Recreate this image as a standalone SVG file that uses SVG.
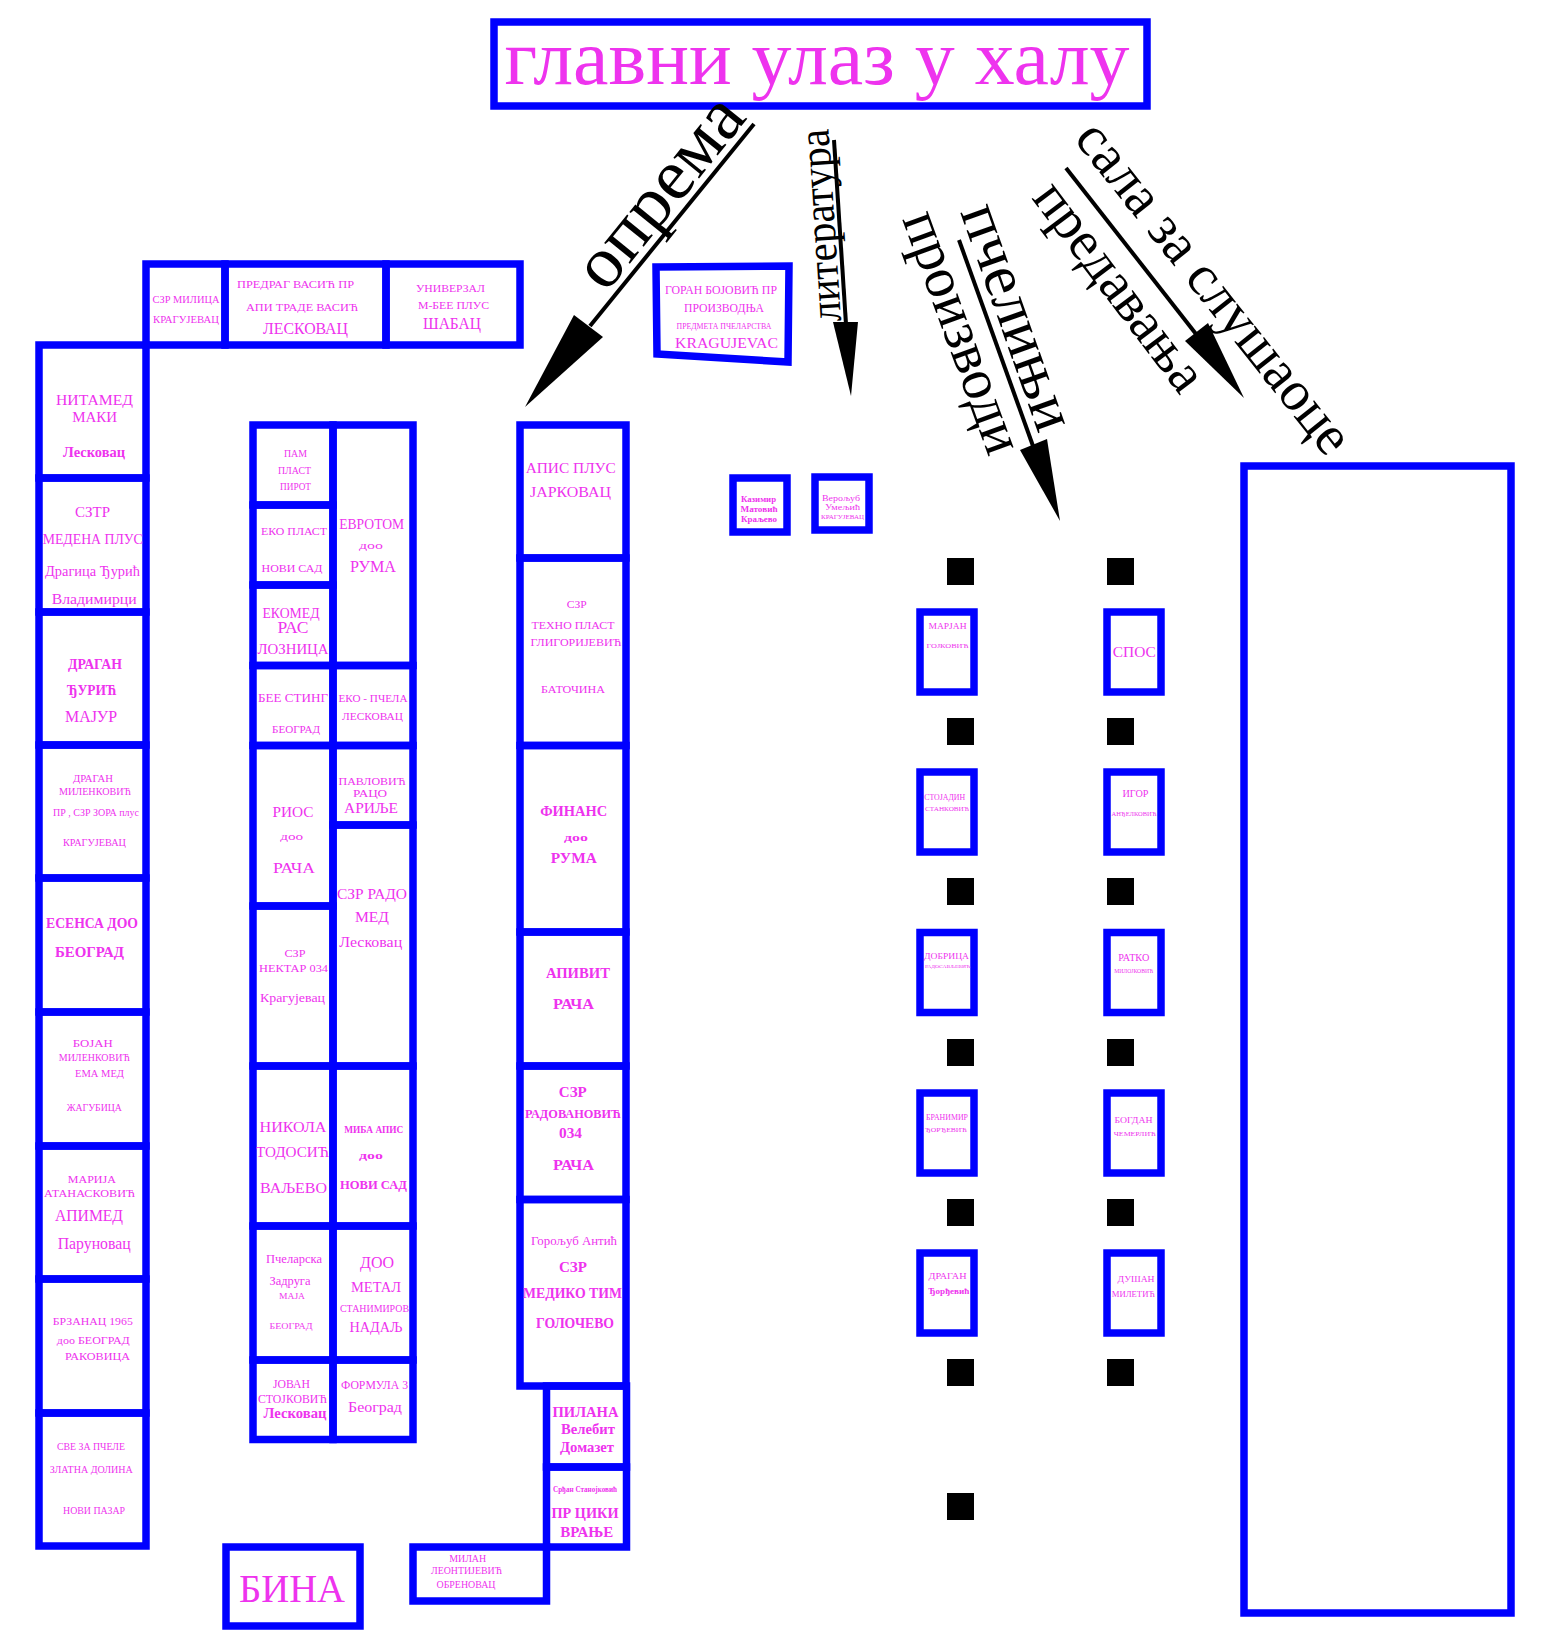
<svg xmlns="http://www.w3.org/2000/svg" width="1558" height="1646" viewBox="0 0 1558 1646">
<style>
.bx{fill:none;stroke:#0000ff;stroke-width:7.5}
.t{font-family:"Liberation Serif","Times New Roman",serif;fill:#ee33ee;text-anchor:middle}
.bd{font-weight:bold}
.ar{stroke:#000;stroke-width:4;fill:none}
.ah{fill:#000}
.lb{font-family:"Liberation Serif","Times New Roman",serif;fill:#000}
.sq{fill:#000}
</style>
<rect width="1558" height="1646" fill="#fff"/>

<g id="title">
<rect class="bx" x="494" y="22" width="653" height="84"/>
<text class="t" x="817" y="84" font-size="78" textLength="625" lengthAdjust="spacingAndGlyphs">главни улаз у халу</text>
</g>

<g id="connectors">
<line class="ar" x1="754" y1="124" x2="590" y2="326"/>
<polygon class="ah" points="574,315 603,337 525,407"/>
<text class="lb" transform="translate(748,118) rotate(-51)" text-anchor="end" font-size="72" textLength="226" lengthAdjust="spacingAndGlyphs">опрема</text>
<line class="ar" x1="834" y1="140" x2="846" y2="324"/>
<polygon class="ah" points="833,322 858,322 851,396"/>
<text class="lb" transform="translate(841,321) rotate(-93.75)" font-size="44" textLength="193" lengthAdjust="spacingAndGlyphs">литература</text>
<line class="ar" x1="959" y1="240" x2="1033" y2="446"/>
<polygon class="ah" points="1020,450 1047,439 1060,521"/>
<text class="lb" transform="translate(960,212) rotate(70.5)" font-size="62" textLength="236" lengthAdjust="spacingAndGlyphs">пчелињи</text>
<text class="lb" transform="translate(902,219) rotate(70)" font-size="58" textLength="254" lengthAdjust="spacingAndGlyphs">производи</text>
<line class="ar" x1="1066" y1="168" x2="1196" y2="334"/>
<polygon class="ah" points="1185,341 1208,323 1244,398"/>
<text class="lb" transform="translate(1073,139) rotate(51.5)" font-size="57" textLength="408" lengthAdjust="spacingAndGlyphs">сала за слушаоце</text>
<text class="lb" transform="translate(1031,198) rotate(53)" font-size="56" textLength="248" lengthAdjust="spacingAndGlyphs">предавања</text>
</g>

<g id="hall">
<rect class="bx" x="1244" y="466" width="267" height="1147"/>
</g>

<g id="top-milica">
<rect class="bx" x="146" y="264" width="79" height="81"/>
<text class="t" x="186" y="303" font-size="10.5" textLength="67" lengthAdjust="spacingAndGlyphs">СЗР МИЛИЦА</text>
<text class="t" x="186" y="323" font-size="10.5" textLength="66" lengthAdjust="spacingAndGlyphs">КРАГУЈЕВАЦ</text>
</g>
<g id="top-predrag">
<rect class="bx" x="225" y="264" width="161" height="81"/>
<text class="t" x="295.5" y="288" font-size="11" textLength="117" lengthAdjust="spacingAndGlyphs">ПРЕДРАГ  ВАСИЋ ПР</text>
<text class="t" x="302" y="311" font-size="11" textLength="112" lengthAdjust="spacingAndGlyphs">АПИ ТРАДЕ  ВАСИЋ</text>
<text class="t" x="305.5" y="334" font-size="17" textLength="85" lengthAdjust="spacingAndGlyphs">ЛЕСКОВАЦ</text>
</g>
<g id="top-univerzal">
<rect class="bx" x="386" y="264" width="134" height="81"/>
<text class="t" x="450.5" y="292" font-size="11" textLength="69" lengthAdjust="spacingAndGlyphs">УНИВЕРЗАЛ</text>
<text class="t" x="453.5" y="309" font-size="11" textLength="71" lengthAdjust="spacingAndGlyphs">М-БЕЕ ПЛУС</text>
<text class="t" x="452" y="329" font-size="16" textLength="58" lengthAdjust="spacingAndGlyphs">ШАБАЦ</text>
</g>

<g id="goran">
<polygon class="bx" points="656,267 789,266 788,362 657,354"/>
<text class="t" x="721" y="294" font-size="11.5" textLength="112" lengthAdjust="spacingAndGlyphs">ГОРАН БОЈОВИЋ ПР</text>
<text class="t" x="724" y="312" font-size="11.5" textLength="80" lengthAdjust="spacingAndGlyphs">ПРОИЗВОДЊА</text>
<text class="t" x="724" y="329" font-size="7.5" textLength="95" lengthAdjust="spacingAndGlyphs">ПРЕДМЕТА ПЧЕЛАРСТВА</text>
<text class="t" x="726.5" y="348" font-size="15" textLength="103" lengthAdjust="spacingAndGlyphs">KRAGUJEVAC</text>
</g>

<g id="kazimir">
<rect class="bx" x="733" y="478" width="54" height="54"/>
<text class="t bd" x="758.5" y="502.3" font-size="9" textLength="35" lengthAdjust="spacingAndGlyphs">Казимир</text>
<text class="t bd" x="759" y="511.7" font-size="9" textLength="37" lengthAdjust="spacingAndGlyphs">Матовић</text>
<text class="t bd" x="759" y="522.3" font-size="9" textLength="36" lengthAdjust="spacingAndGlyphs">Краљево</text>
</g>
<g id="veroljub">
<rect class="bx" x="815" y="477" width="54" height="53"/>
<text class="t" x="841" y="500.7" font-size="9" textLength="38" lengthAdjust="spacingAndGlyphs">Верољуб</text>
<text class="t" x="842.5" y="510" font-size="9" textLength="35" lengthAdjust="spacingAndGlyphs">Умељић</text>
<text class="t" x="842.5" y="519.3" font-size="6" textLength="43" lengthAdjust="spacingAndGlyphs">КРАГУЈЕВАЦ</text>
</g>

<g id="l1"><rect class="bx" x="39" y="345" width="107" height="133"/>
<text class="t" x="94.5" y="405" font-size="15.5" textLength="77" lengthAdjust="spacingAndGlyphs">НИТАМЕД</text>
<text class="t" x="94.7" y="422" font-size="15.5" textLength="45" lengthAdjust="spacingAndGlyphs">МАКИ</text>
<text class="t bd" x="94" y="457" font-size="15" textLength="62" lengthAdjust="spacingAndGlyphs">Лесковац</text></g>
<g id="l2"><rect class="bx" x="39" y="478" width="107" height="134"/>
<text class="t" x="92.5" y="517" font-size="15" textLength="35" lengthAdjust="spacingAndGlyphs">СЗТР</text>
<text class="t" x="92.7" y="544" font-size="15" textLength="100" lengthAdjust="spacingAndGlyphs">МЕДЕНА ПЛУС</text>
<text class="t" x="92.5" y="576" font-size="15" textLength="95" lengthAdjust="spacingAndGlyphs">Драгица Ђурић</text>
<text class="t" x="94.2" y="604" font-size="15" textLength="85" lengthAdjust="spacingAndGlyphs">Владимирци</text></g>
<g id="l3"><rect class="bx" x="39" y="612" width="107" height="133"/>
<text class="t bd" x="95" y="669" font-size="15" textLength="54" lengthAdjust="spacingAndGlyphs">ДРАГАН</text>
<text class="t bd" x="91.7" y="695" font-size="15" textLength="50" lengthAdjust="spacingAndGlyphs">ЂУРИЋ</text>
<text class="t" x="91" y="722" font-size="17" textLength="52" lengthAdjust="spacingAndGlyphs">МАЈУР</text></g>
<g id="l4"><rect class="bx" x="39" y="745" width="107" height="133"/>
<text class="t" x="93" y="782" font-size="10" textLength="40" lengthAdjust="spacingAndGlyphs">ДРАГАН</text>
<text class="t" x="95" y="795" font-size="10" textLength="72" lengthAdjust="spacingAndGlyphs">МИЛЕНКОВИЋ</text>
<text class="t" x="96" y="816" font-size="10" textLength="86" lengthAdjust="spacingAndGlyphs">ПР , СЗР ЗОРА плус</text>
<text class="t" x="94.5" y="846" font-size="10" textLength="63" lengthAdjust="spacingAndGlyphs">КРАГУЈЕВАЦ</text></g>
<g id="l5"><rect class="bx" x="39" y="878" width="107" height="134"/>
<text class="t bd" x="92" y="928" font-size="15" textLength="92" lengthAdjust="spacingAndGlyphs">ЕСЕНСА ДОО</text>
<text class="t bd" x="89.5" y="957" font-size="15" textLength="69" lengthAdjust="spacingAndGlyphs">БЕОГРАД</text></g>
<g id="l6"><rect class="bx" x="39" y="1012" width="107" height="134"/>
<text class="t" x="92.7" y="1047" font-size="9.5" textLength="40" lengthAdjust="spacingAndGlyphs">БОЈАН</text>
<text class="t" x="94.3" y="1060.6" font-size="9.5" textLength="71" lengthAdjust="spacingAndGlyphs">МИЛЕНКОВИЋ</text>
<text class="t" x="99.5" y="1077" font-size="9.5" textLength="49" lengthAdjust="spacingAndGlyphs">ЕМА  МЕД</text>
<text class="t" x="94.3" y="1111" font-size="9.5" textLength="55" lengthAdjust="spacingAndGlyphs">ЖАГУБИЦА</text></g>
<g id="l7"><rect class="bx" x="39" y="1146" width="107" height="133"/>
<text class="t" x="91.8" y="1182.7" font-size="11" textLength="48" lengthAdjust="spacingAndGlyphs">МАРИЈА</text>
<text class="t" x="89.5" y="1197.4" font-size="11" textLength="91" lengthAdjust="spacingAndGlyphs">АТАНАСКОВИЋ</text>
<text class="t" x="89" y="1221" font-size="16" textLength="68" lengthAdjust="spacingAndGlyphs">АПИМЕД</text>
<text class="t" x="94.2" y="1248.8" font-size="16" textLength="73" lengthAdjust="spacingAndGlyphs">Паруновац</text></g>
<g id="l8"><rect class="bx" x="39" y="1279" width="107" height="134"/>
<text class="t" x="92.8" y="1324.5" font-size="10.5" textLength="80" lengthAdjust="spacingAndGlyphs">БРЗАНАЦ 1965</text>
<text class="t" x="93.3" y="1344" font-size="10.5" textLength="73" lengthAdjust="spacingAndGlyphs">доо БЕОГРАД</text>
<text class="t" x="97.5" y="1360" font-size="10.5" textLength="65" lengthAdjust="spacingAndGlyphs">РАКОВИЦА</text></g>
<g id="l9"><rect class="bx" x="39" y="1413" width="107" height="133"/>
<text class="t" x="91" y="1449.5" font-size="9.5" textLength="68" lengthAdjust="spacingAndGlyphs">СВЕ ЗА ПЧЕЛЕ</text>
<text class="t" x="91.3" y="1473" font-size="9.5" textLength="83" lengthAdjust="spacingAndGlyphs">ЗЛАТНА ДОЛИНА</text>
<text class="t" x="94" y="1514" font-size="9.5" textLength="62" lengthAdjust="spacingAndGlyphs">НОВИ ПАЗАР</text></g>

<g id="a1"><rect class="bx" x="253" y="425" width="80" height="80"/>
<text class="t" x="295.5" y="456.7" font-size="9.5" textLength="23" lengthAdjust="spacingAndGlyphs">ПАМ</text>
<text class="t" x="294.5" y="474" font-size="9.5" textLength="33" lengthAdjust="spacingAndGlyphs">ПЛАСТ</text>
<text class="t" x="295.5" y="490" font-size="9.5" textLength="31" lengthAdjust="spacingAndGlyphs">ПИРОТ</text></g>
<g id="a2"><rect class="bx" x="253" y="505" width="80" height="80"/>
<text class="t" x="294" y="535" font-size="11" textLength="66" lengthAdjust="spacingAndGlyphs">ЕКО ПЛАСТ</text>
<text class="t" x="292" y="571.7" font-size="11" textLength="61" lengthAdjust="spacingAndGlyphs">НОВИ САД</text></g>
<g id="a3"><rect class="bx" x="253" y="585" width="80" height="80.5"/>
<text class="t" x="291" y="617.7" font-size="14" textLength="57" lengthAdjust="spacingAndGlyphs">ЕКОМЕД</text>
<text class="t" x="293" y="633" font-size="17" textLength="31" lengthAdjust="spacingAndGlyphs">РАС</text>
<text class="t" x="293" y="654" font-size="15" textLength="71" lengthAdjust="spacingAndGlyphs">ЛОЗНИЦА</text></g>
<g id="a4"><rect class="bx" x="253" y="665.5" width="80" height="80"/>
<text class="t" x="293" y="702" font-size="12" textLength="70" lengthAdjust="spacingAndGlyphs">БЕЕ СТИНГ</text>
<text class="t" x="296" y="733" font-size="10" textLength="48" lengthAdjust="spacingAndGlyphs">БЕОГРАД</text></g>
<g id="a5"><rect class="bx" x="253" y="745.5" width="80" height="160.5"/>
<text class="t" x="293" y="816.7" font-size="15" textLength="41" lengthAdjust="spacingAndGlyphs">РИОС</text>
<text class="t" x="291.7" y="840" font-size="11" textLength="23" lengthAdjust="spacingAndGlyphs">доо</text>
<text class="t" x="294" y="873" font-size="15" textLength="42" lengthAdjust="spacingAndGlyphs">РАЧА</text></g>
<g id="a6"><rect class="bx" x="253" y="906" width="80" height="160"/>
<text class="t" x="295" y="956.7" font-size="10.5" textLength="21" lengthAdjust="spacingAndGlyphs">СЗР</text>
<text class="t" x="293.5" y="971.7" font-size="10.5" textLength="69" lengthAdjust="spacingAndGlyphs">НЕКТАР  034</text>
<text class="t" x="292.5" y="1001.7" font-size="13" textLength="65" lengthAdjust="spacingAndGlyphs">Крагујевац</text></g>
<g id="a7"><rect class="bx" x="253" y="1066" width="80" height="160"/>
<text class="t" x="293" y="1131.7" font-size="15" textLength="67" lengthAdjust="spacingAndGlyphs">НИКОЛА</text>
<text class="t" x="292.5" y="1156.7" font-size="15" textLength="73" lengthAdjust="spacingAndGlyphs">ТОДОСИЋ</text>
<text class="t" x="293.5" y="1192.7" font-size="15" textLength="67" lengthAdjust="spacingAndGlyphs">ВАЉЕВО</text></g>
<g id="a8"><rect class="bx" x="253" y="1226" width="80" height="134"/>
<text class="t" x="294" y="1262.7" font-size="12" textLength="56" lengthAdjust="spacingAndGlyphs">Пчеларска</text>
<text class="t" x="290" y="1285" font-size="12" textLength="41" lengthAdjust="spacingAndGlyphs">Задруга</text>
<text class="t" x="292" y="1299" font-size="9" textLength="26" lengthAdjust="spacingAndGlyphs">МАЈА</text>
<text class="t" x="291" y="1329" font-size="9" textLength="43" lengthAdjust="spacingAndGlyphs">БЕОГРАД</text></g>
<g id="a9"><rect class="bx" x="253" y="1360" width="80" height="79.5"/>
<text class="t" x="291.5" y="1388" font-size="11.5" textLength="37" lengthAdjust="spacingAndGlyphs">ЈОВАН</text>
<text class="t" x="292.5" y="1402.7" font-size="11.5" textLength="69" lengthAdjust="spacingAndGlyphs">СТОЈКОВИЋ</text>
<text class="t bd" x="295" y="1418" font-size="15" textLength="63" lengthAdjust="spacingAndGlyphs">Лесковац</text></g>

<g id="b1"><rect class="bx" x="333" y="425" width="80" height="240.5"/>
<text class="t" x="371.7" y="529" font-size="14" textLength="65" lengthAdjust="spacingAndGlyphs">ЕВРОТОМ</text>
<text class="t" x="371" y="549" font-size="11" textLength="24" lengthAdjust="spacingAndGlyphs">доо</text>
<text class="t" x="373" y="571.7" font-size="16" textLength="46" lengthAdjust="spacingAndGlyphs">РУМА</text></g>
<g id="b2"><rect class="bx" x="333" y="665.5" width="80" height="80"/>
<text class="t" x="373" y="702" font-size="10" textLength="69" lengthAdjust="spacingAndGlyphs">ЕКО - ПЧЕЛА</text>
<text class="t" x="372.5" y="720" font-size="10.5" textLength="61" lengthAdjust="spacingAndGlyphs">ЛЕСКОВАЦ</text></g>
<g id="b3"><rect class="bx" x="333" y="745.5" width="80" height="79.5"/>
<text class="t" x="372" y="785" font-size="11" textLength="67" lengthAdjust="spacingAndGlyphs">ПАВЛОВИЋ</text>
<text class="t" x="370" y="796.7" font-size="11" textLength="34" lengthAdjust="spacingAndGlyphs">РАЦО</text>
<text class="t" x="371" y="813" font-size="14" textLength="54" lengthAdjust="spacingAndGlyphs">АРИЉЕ</text></g>
<g id="b4"><rect class="bx" x="333" y="825" width="80" height="241"/>
<text class="t" x="372" y="899" font-size="14" textLength="70" lengthAdjust="spacingAndGlyphs">СЗР РАДО</text>
<text class="t" x="372" y="921.7" font-size="15" textLength="34" lengthAdjust="spacingAndGlyphs">МЕД</text>
<text class="t" x="370.7" y="947" font-size="15" textLength="63" lengthAdjust="spacingAndGlyphs">Лесковац</text></g>
<g id="b5"><rect class="bx" x="333" y="1066" width="80" height="160"/>
<text class="t bd" x="373.7" y="1133" font-size="10.5" textLength="59" lengthAdjust="spacingAndGlyphs">МИБА  АПИС</text>
<text class="t bd" x="371" y="1159" font-size="10.5" textLength="24" lengthAdjust="spacingAndGlyphs">доо</text>
<text class="t bd" x="373.5" y="1189" font-size="13" textLength="67" lengthAdjust="spacingAndGlyphs">НОВИ  САД</text></g>
<g id="b6"><rect class="bx" x="333" y="1226" width="80" height="134"/>
<text class="t" x="377" y="1268" font-size="16" textLength="34" lengthAdjust="spacingAndGlyphs">ДОО</text>
<text class="t" x="376" y="1291.7" font-size="15" textLength="50" lengthAdjust="spacingAndGlyphs">МЕТАЛ</text>
<text class="t" x="374.5" y="1311.7" font-size="10.5" textLength="69" lengthAdjust="spacingAndGlyphs">СТАНИМИРОВ</text>
<text class="t" x="376" y="1331.7" font-size="15" textLength="53" lengthAdjust="spacingAndGlyphs">НАДАЉ</text></g>
<g id="b7"><rect class="bx" x="333" y="1360" width="80" height="79.5"/>
<text class="t" x="374.5" y="1389" font-size="11.5" textLength="67" lengthAdjust="spacingAndGlyphs">ФОРМУЛА 3</text>
<text class="t" x="375" y="1411.7" font-size="15" textLength="54" lengthAdjust="spacingAndGlyphs">Београд</text></g>

<g id="c1"><rect class="bx" x="520" y="425" width="106" height="133"/>
<text class="t" x="570.7" y="473.3" font-size="15" textLength="90" lengthAdjust="spacingAndGlyphs">АПИС ПЛУС</text>
<text class="t" x="570.5" y="496.7" font-size="15" textLength="81" lengthAdjust="spacingAndGlyphs">ЈАРКОВАЦ</text></g>
<g id="c2"><rect class="bx" x="520" y="558" width="106" height="187.5"/>
<text class="t" x="576.7" y="607.7" font-size="11" textLength="20" lengthAdjust="spacingAndGlyphs">СЗР</text>
<text class="t" x="573" y="629.3" font-size="11" textLength="83" lengthAdjust="spacingAndGlyphs">ТЕХНО ПЛАСТ</text>
<text class="t" x="576" y="646" font-size="11" textLength="91" lengthAdjust="spacingAndGlyphs">ГЛИГОРИЈЕВИЋ</text>
<text class="t" x="573" y="693.3" font-size="11" textLength="64" lengthAdjust="spacingAndGlyphs">БАТОЧИНА</text></g>
<g id="c3"><rect class="bx" x="520" y="745.5" width="106" height="186.5"/>
<text class="t bd" x="573.7" y="816" font-size="15" textLength="67" lengthAdjust="spacingAndGlyphs">ФИНАНС</text>
<text class="t bd" x="576" y="840.7" font-size="11" textLength="24" lengthAdjust="spacingAndGlyphs">доо</text>
<text class="t bd" x="573.8" y="863.3" font-size="15" textLength="46" lengthAdjust="spacingAndGlyphs">РУМА</text></g>
<g id="c4"><rect class="bx" x="520" y="932" width="106" height="134"/>
<text class="t bd" x="578" y="977.7" font-size="15" textLength="64" lengthAdjust="spacingAndGlyphs">АПИВИТ</text>
<text class="t bd" x="573.5" y="1009" font-size="15" textLength="41" lengthAdjust="spacingAndGlyphs">РАЧА</text></g>
<g id="c5"><rect class="bx" x="520" y="1066" width="106" height="133.5"/>
<text class="t bd" x="572.8" y="1096.7" font-size="15" textLength="28" lengthAdjust="spacingAndGlyphs">СЗР</text>
<text class="t bd" x="573" y="1117.7" font-size="11.5" textLength="96" lengthAdjust="spacingAndGlyphs">РАДОВАНОВИЋ</text>
<text class="t bd" x="570.5" y="1138.3" font-size="14" textLength="23" lengthAdjust="spacingAndGlyphs">034</text>
<text class="t bd" x="573.5" y="1170" font-size="15" textLength="41" lengthAdjust="spacingAndGlyphs">РАЧА</text></g>
<g id="c6"><rect class="bx" x="520" y="1199.5" width="106" height="186.5"/>
<text class="t" x="574" y="1245" font-size="13" textLength="86" lengthAdjust="spacingAndGlyphs">Горољуб Антић</text>
<text class="t bd" x="573" y="1271.7" font-size="15" textLength="28" lengthAdjust="spacingAndGlyphs">СЗР</text>
<text class="t bd" x="572.5" y="1298.3" font-size="14" textLength="99" lengthAdjust="spacingAndGlyphs">МЕДИКО ТИМ</text>
<text class="t bd" x="575" y="1328.3" font-size="14" textLength="78" lengthAdjust="spacingAndGlyphs">ГОЛОЧЕВО</text></g>
<g id="c7"><rect class="bx" x="546.5" y="1386" width="80" height="81"/>
<text class="t bd" x="585.5" y="1416.7" font-size="15" textLength="66" lengthAdjust="spacingAndGlyphs">ПИЛАНА</text>
<text class="t bd" x="588" y="1434.3" font-size="14" textLength="54" lengthAdjust="spacingAndGlyphs">Велебит</text>
<text class="t bd" x="587" y="1452.3" font-size="14" textLength="54" lengthAdjust="spacingAndGlyphs">Домазет</text></g>
<g id="c8"><rect class="bx" x="546.5" y="1467" width="80" height="80"/>
<text class="t bd" x="585" y="1492.3" font-size="8" textLength="64" lengthAdjust="spacingAndGlyphs">Срђан Станојковић</text>
<text class="t bd" x="585" y="1518.3" font-size="15" textLength="67" lengthAdjust="spacingAndGlyphs">ПР ЦИКИ</text>
<text class="t bd" x="586.7" y="1537.3" font-size="15" textLength="53" lengthAdjust="spacingAndGlyphs">ВРАЊЕ</text></g>
<g id="milan"><rect class="bx" x="413" y="1547" width="133.5" height="54"/>
<text class="t" x="467.7" y="1561.7" font-size="9.5" textLength="37" lengthAdjust="spacingAndGlyphs">МИЛАН</text>
<text class="t" x="466.5" y="1574.3" font-size="9.5" textLength="71" lengthAdjust="spacingAndGlyphs">ЛЕОНТИЈЕВИЋ</text>
<text class="t" x="466" y="1588.3" font-size="9.5" textLength="59" lengthAdjust="spacingAndGlyphs">ОБРЕНОВАЦ</text></g>
<g id="bina"><rect class="bx" x="226" y="1547" width="134" height="79"/>
<text class="t" x="292" y="1601.7" font-size="41" textLength="106" lengthAdjust="spacingAndGlyphs">БИНА</text></g>

<g id="markers">
<rect class="sq" x="947" y="558" width="27" height="27"/><rect class="sq" x="1107" y="558" width="27" height="27"/>
<rect class="sq" x="947" y="718" width="27" height="27"/><rect class="sq" x="1107" y="718" width="27" height="27"/>
<rect class="sq" x="947" y="878" width="27" height="27"/><rect class="sq" x="1107" y="878" width="27" height="27"/>
<rect class="sq" x="947" y="1039" width="27" height="27"/><rect class="sq" x="1107" y="1039" width="27" height="27"/>
<rect class="sq" x="947" y="1199" width="27" height="27"/><rect class="sq" x="1107" y="1199" width="27" height="27"/>
<rect class="sq" x="947" y="1359" width="27" height="27"/><rect class="sq" x="1107" y="1359" width="27" height="27"/>
<rect class="sq" x="947" y="1493" width="27" height="27"/>
</g>

<g id="p1"><rect class="bx" x="920" y="612" width="54" height="80" stroke-width="8"/>
<text class="t" x="947.5" y="629" font-size="9" textLength="38" lengthAdjust="spacingAndGlyphs">МАРЈАН</text>
<text class="t" x="947.5" y="648.3" font-size="7" textLength="42" lengthAdjust="spacingAndGlyphs">ГОЈКОВИЋ</text></g>
<g id="p2"><rect class="bx" x="920" y="772" width="54" height="80" stroke-width="8"/>
<text class="t" x="944.7" y="800" font-size="8.5" textLength="41" lengthAdjust="spacingAndGlyphs">СТОЈАДИН</text>
<text class="t" x="947" y="811" font-size="7" textLength="44" lengthAdjust="spacingAndGlyphs">СТАНКОВИЋ</text></g>
<g id="p3"><rect class="bx" x="920" y="932.5" width="54" height="80" stroke-width="8"/>
<text class="t" x="946.5" y="959.3" font-size="9" textLength="45" lengthAdjust="spacingAndGlyphs">ДОБРИЦА</text>
<text class="t" x="947.5" y="968.3" font-size="5" textLength="45" lengthAdjust="spacingAndGlyphs">РАДОСАВЉЕВИЋ</text></g>
<g id="p4"><rect class="bx" x="920" y="1093" width="54" height="80" stroke-width="8"/>
<text class="t" x="947" y="1120" font-size="8" textLength="42" lengthAdjust="spacingAndGlyphs">БРАНИМИР</text>
<text class="t" x="946" y="1131.7" font-size="7" textLength="42" lengthAdjust="spacingAndGlyphs">ЂОРЂЕВИЋ</text></g>
<g id="p5"><rect class="bx" x="920" y="1253" width="54" height="80" stroke-width="8"/>
<text class="t" x="947.5" y="1279.3" font-size="9" textLength="38" lengthAdjust="spacingAndGlyphs">ДРАГАН</text>
<text class="t bd" x="948.8" y="1294.3" font-size="8.5" textLength="41" lengthAdjust="spacingAndGlyphs">Ђорђевић</text></g>
<g id="q1"><rect class="bx" x="1107" y="612" width="54" height="80" stroke-width="8"/>
<text class="t" x="1134.3" y="656.7" font-size="15" textLength="43" lengthAdjust="spacingAndGlyphs">СПОС</text></g>
<g id="q2"><rect class="bx" x="1107" y="772" width="54" height="80" stroke-width="8"/>
<text class="t" x="1135.5" y="797.3" font-size="10" textLength="26" lengthAdjust="spacingAndGlyphs">ИГОР</text>
<text class="t" x="1134" y="815.7" font-size="6" textLength="45" lengthAdjust="spacingAndGlyphs">АНЂЕЛКОВИЋ</text></g>
<g id="q3"><rect class="bx" x="1107" y="932.5" width="54" height="80" stroke-width="8"/>
<text class="t" x="1133.8" y="960.7" font-size="10" textLength="31" lengthAdjust="spacingAndGlyphs">РАТКО</text>
<text class="t" x="1133.7" y="972.7" font-size="5.5" textLength="39" lengthAdjust="spacingAndGlyphs">МИЛОЈКОВИЋ</text></g>
<g id="q4"><rect class="bx" x="1107" y="1093" width="54" height="80" stroke-width="8"/>
<text class="t" x="1133.5" y="1123.3" font-size="9" textLength="38" lengthAdjust="spacingAndGlyphs">БОГДАН</text>
<text class="t" x="1134.8" y="1136" font-size="7" textLength="42" lengthAdjust="spacingAndGlyphs">ЧЕМЕРЛИЋ</text></g>
<g id="q5"><rect class="bx" x="1107" y="1253" width="54" height="80" stroke-width="8"/>
<text class="t" x="1136" y="1282.3" font-size="9" textLength="37" lengthAdjust="spacingAndGlyphs">ДУШАН</text>
<text class="t" x="1133.3" y="1297.3" font-size="7.5" textLength="43" lengthAdjust="spacingAndGlyphs">МИЛЕТИЋ</text></g>
</svg>
